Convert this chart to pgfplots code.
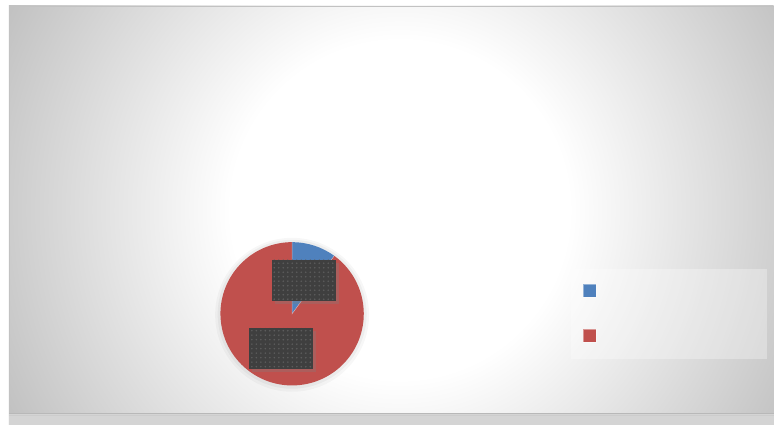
\documentclass[border=0pt]{standalone}
\usepackage{pgfplots}
\pgfplotsset{compat=1.18}
\usepackage{pgfplotstable}
\usetikzlibrary{shadows,patterns.meta}
\definecolor{sBlue}{RGB}{79,129,189}
\definecolor{sRed}{RGB}{192,80,77}
\definecolor{boxDark}{RGB}{63,63,63}
\pgfdeclareradialshading{bgshade}{\pgfpoint{0bp}{0bp}}{color(0bp)=(white); color(9.4bp)=(white); color(25bp)=(black!25); color(50bp)=(black!25)}
\pgfplotstableread{
label value
A 10
B 90
}\piedata
\begin{document}
\begin{tikzpicture}[x=1pt,y=1pt]
% page
\fill[white] (0,0) rectangle (774,425);
\begin{scope}
\clip (9,0) rectangle (774,419);
\shade[shading=bgshade] (400,215) circle (450);
\end{scope}
\draw[black!24,line width=0.8pt] (9.4,0) -- (9.4,418.6) -- (774,418.6);
\fill[black!17] (9,0) rectangle (774,11);
\draw[black!28,line width=1pt] (9,11) -- (774,11);
\draw[black!20,line width=0.6pt] (9,9.5) -- (774,9.5);
\begin{axis}[
  width=774pt, height=425pt, scale only axis,
  xmin=0, xmax=774, ymin=0, ymax=425,
  hide axis, clip=false]
\pgfplotstablegetelem{0}{value}\of\piedata \let\vA\pgfplotsretval
\pgfplotstablegetelem{1}{value}\of\piedata \let\vB\pgfplotsretval
\pgfmathsetmacro{\tot}{\vA+\vB}
\pgfmathsetmacro{\aEnd}{90-360*\vA/\tot}
% soft shadow
\fill[black,opacity=0.03] (axis cs:292.3,110) circle[radius=77];
\fill[black,opacity=0.04] (axis cs:292.3,110.5) circle[radius=74.5];
% slices
\fill[sBlue] (axis cs:292.3,111) -- ++(90:71.7) arc[start angle=90, end angle=\aEnd, radius=71.7] -- cycle;
\fill[sRed] (axis cs:292.3,111) -- ++(\aEnd:71.7) arc[start angle=\aEnd, end angle=-270, radius=71.7] -- cycle;
\draw[white,opacity=0.45,line width=0.5pt] (axis cs:292.3,182.7) -- (axis cs:292.3,111) -- ++(\aEnd:71.7);
% data label boxes
\fill[boxDark,drop shadow={shadow xshift=3pt,shadow yshift=-3pt,opacity=0.3}] (axis cs:272,165) rectangle (axis cs:336,124);
\fill[pattern={Dots[distance=4.5pt, radius=0.9pt]},pattern color=black!64] (axis cs:272,165) rectangle (axis cs:336,124);
\fill[boxDark,drop shadow={shadow xshift=3pt,shadow yshift=-3pt,opacity=0.3}] (axis cs:249,97) rectangle (axis cs:313,56);
\fill[pattern={Dots[distance=4.5pt, radius=0.9pt]},pattern color=black!64] (axis cs:249,97) rectangle (axis cs:313,56);
% legend
\fill[white,opacity=0.3] (axis cs:571,156) rectangle (axis cs:767,66);
\fill[sBlue] (axis cs:583.5,140.5) rectangle (axis cs:596.5,127.5);
\draw[white,opacity=0.4,line width=0.4pt] (axis cs:583.5,140.5) rectangle (axis cs:596.5,127.5);
\fill[sRed] (axis cs:583.5,95.5) rectangle (axis cs:596.5,82.5);
\draw[white,opacity=0.4,line width=0.4pt] (axis cs:583.5,95.5) rectangle (axis cs:596.5,82.5);
\end{axis}
\end{tikzpicture}
\end{document}
